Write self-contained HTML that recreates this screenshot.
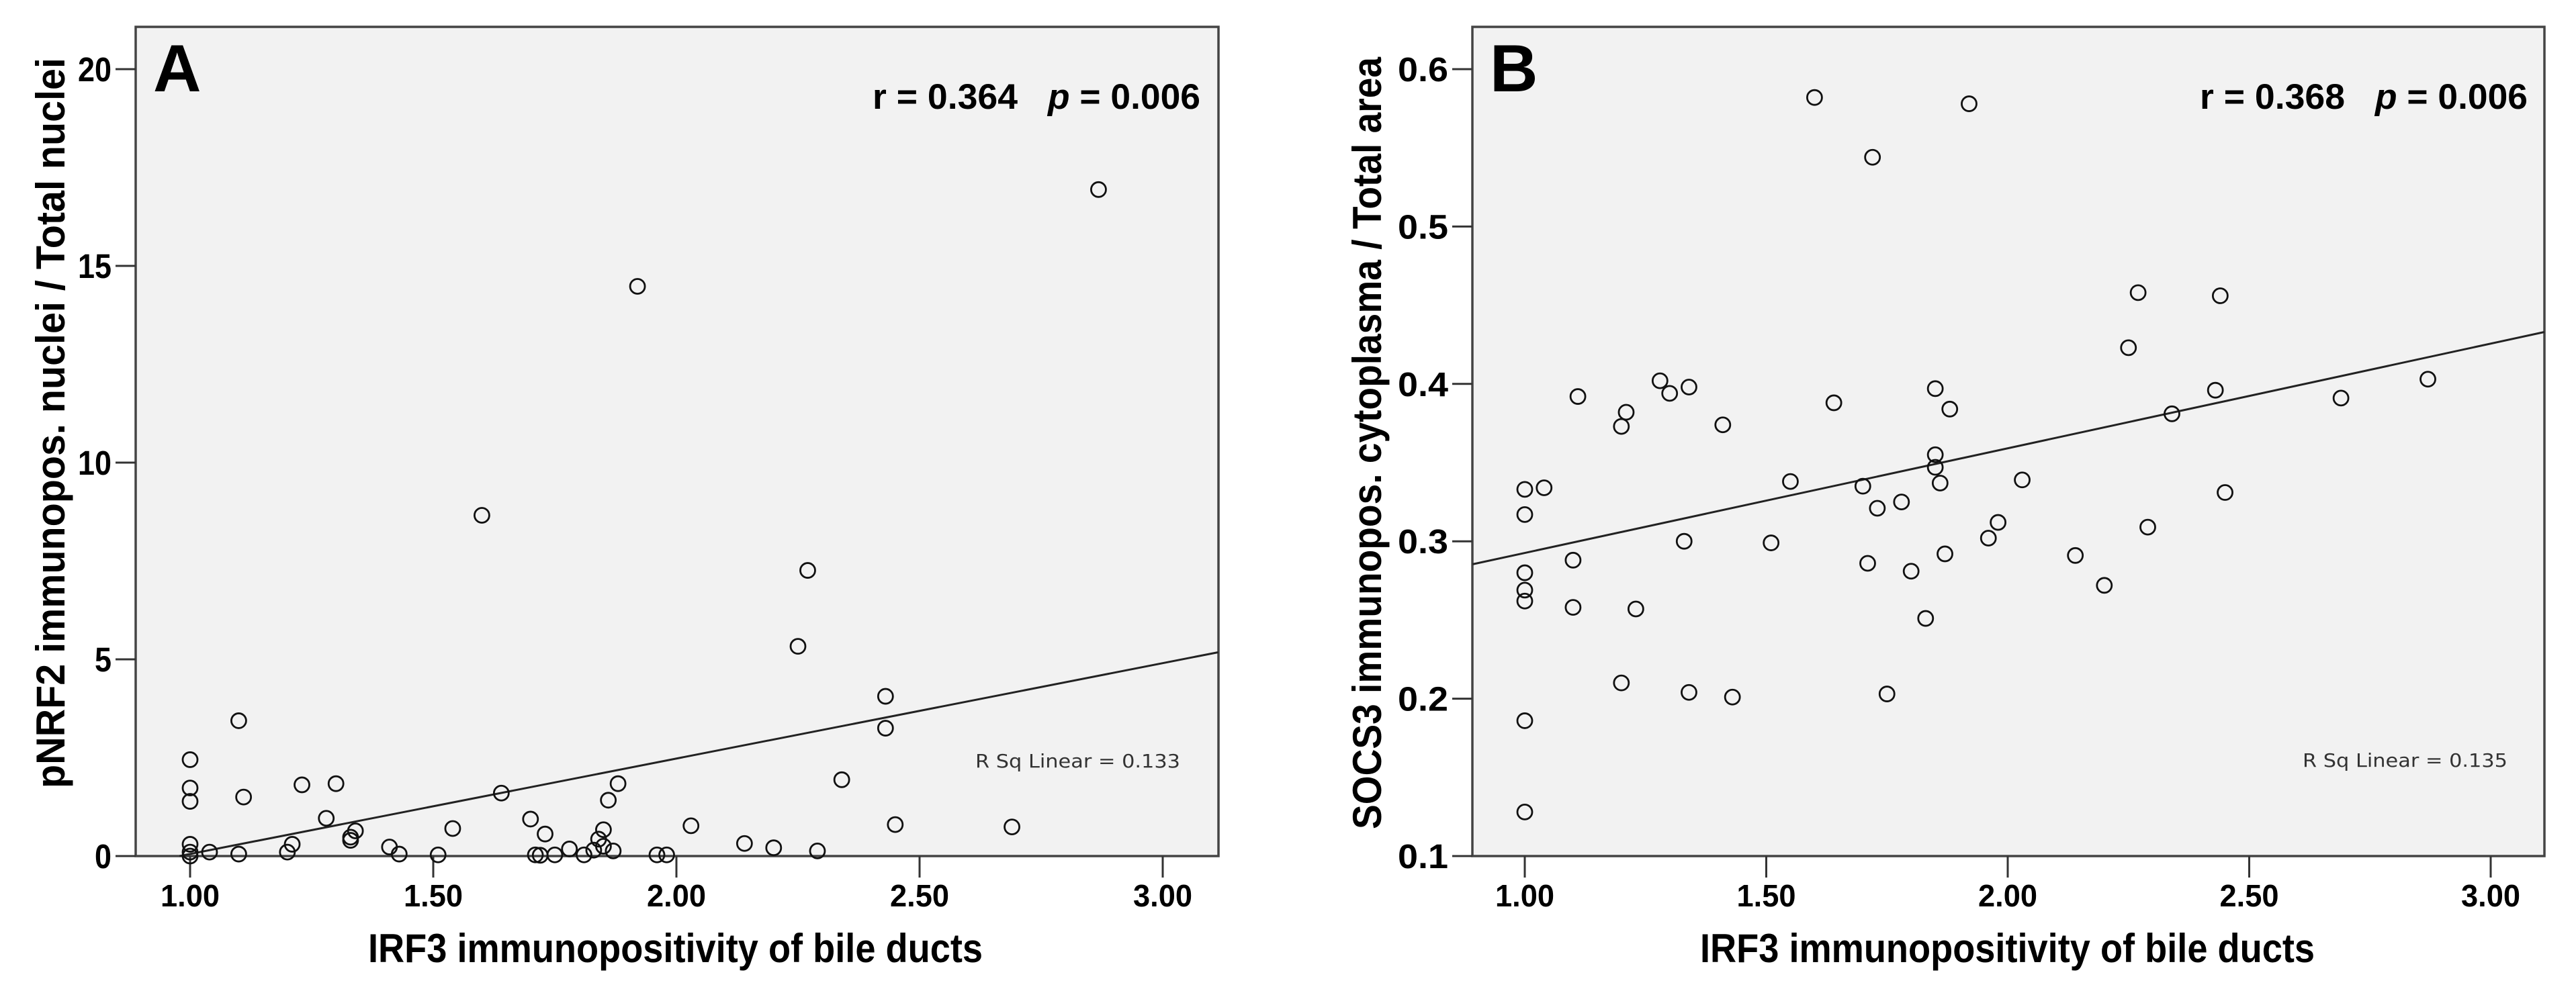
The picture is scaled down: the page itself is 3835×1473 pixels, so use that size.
<!DOCTYPE html>
<html><head><meta charset="utf-8"><style>
html,body{margin:0;padding:0;background:#fff;}
svg{display:block;}
text{font-family:"Liberation Sans",Arial,sans-serif;fill:#000;}
</style></head><body>
<svg id="chart" width="3835" height="1473" viewBox="0 0 3835 1473" xmlns="http://www.w3.org/2000/svg"></svg>
<script>
// Panel A data
const aX = [2.868,1.92,1.60,2.27,2.25,2.43,2.43,1.10,1.00,1.00,1.00,1.11,1.23,1.30,1.28,1.33,1.34,1.33,1.64,1.54,1.70,1.73,1.88,1.86,1.85,1.84,2.34,2.03,2.14,2.20,2.29,2.45,2.69,1.00,1.00,1.00,1.04,1.10,1.21,1.20,1.41,1.43,1.51,1.71,1.72,1.75,1.78,1.81,1.83,1.85,1.87,1.96,1.98];
const aY = [16.94,14.48,8.66,7.26,5.33,4.06,3.25,3.44,2.45,1.73,1.39,1.50,1.81,1.84,0.96,0.48,0.64,0.40,1.60,0.70,0.94,0.56,1.84,1.42,0.67,0.43,1.94,0.77,0.32,0.21,0.13,0.80,0.74,0.30,0.10,0.0,0.10,0.05,0.30,0.10,0.23,0.05,0.03,0.03,0.02,0.03,0.18,0.03,0.15,0.25,0.13,0.03,0.03];
// Panel B data
const bX = [1.60,1.92,1.72,2.27,2.44,2.25,2.43,2.87,2.69,2.34,2.45,2.29,2.14,2.20,2.03,1.98,1.96,1.87,1.85,1.88,1.85,1.85,1.86,1.78,1.73,1.70,1.71,1.80,1.83,1.75,1.64,1.55,1.51,1.41,1.43,1.34,1.33,1.34,1.30,1.28,1.23,1.21,1.20,1.20,1.11,1.10,1.10,1.04,1.00,1.00,1.00,1.00,1.00,1.00,1.00];
const bY = [0.582,0.578,0.544,0.458,0.456,0.423,0.396,0.403,0.391,0.381,0.331,0.309,0.291,0.272,0.339,0.312,0.302,0.292,0.397,0.384,0.355,0.347,0.337,0.325,0.321,0.335,0.286,0.281,0.251,0.203,0.388,0.338,0.299,0.374,0.201,0.204,0.300,0.398,0.394,0.402,0.257,0.382,0.373,0.210,0.392,0.288,0.258,0.334,0.333,0.317,0.280,0.269,0.262,0.186,0.128];
// tick labels
const xTicks = [1.0,1.5,2.0,2.5,3.0];
const xTickLabels = ["1.00","1.50","2.00","2.50","3.00"];
const aYTicks = [0,5,10,15,20];
const aYTickLabels = ["0","5","10","15","20"];
const bYTicks = [0.1,0.2,0.3,0.4,0.5,0.6];
const bYTickLabels = ["0.1","0.2","0.3","0.4","0.5","0.6"];
// fit lines [value at x=1, slope]
const aFit = [0.053,2.425];
const bFit = [0.2926,0.0665];

const NS="http://www.w3.org/2000/svg";
const svg=document.getElementById('chart');
function mk(tag,attrs,parent){const e=document.createElementNS(NS,tag);for(const k in attrs)e.setAttribute(k,attrs[k]);(parent||svg).appendChild(e);return e;}

function panel(cfg){
  const g=mk('g',{});
  
  
  const sx=v=>cfg.x0px+(v-1)*cfg.xUnit;
  const sy=v=>cfg.yBase+(cfg.yMinTick-v)*cfg.yUnit;
  const bg=mk('rect',{x:cfg.L,y:cfg.T,width:cfg.R-cfg.L,height:cfg.B-cfg.T,fill:'#f2f2f2',stroke:'#444','stroke-width':3.5},g);
  
  
  xTicks.forEach((t,i)=>{
    const px=sx(t);
    const tk=mk('line',{x1:px,x2:px,y1:cfg.B,y2:cfg.B+32,stroke:'#333','stroke-width':3},g);
    
    
    const tl=mk('text',{x:px,y:1350,'font-size':46,'font-weight':'bold','text-anchor':'middle',textLength:88,lengthAdjust:'spacingAndGlyphs'},g);
    tl.textContent=xTickLabels[i];
    
    
  });
  cfg.yTicks.forEach((t,i)=>{
    const py=sy(t);
    const tk=mk('line',{x1:cfg.L-30,x2:cfg.L,y1:py,y2:py,stroke:'#333','stroke-width':3},g);
    
    
    const lab=cfg.yTickLabels[i];
    const tl=mk('text',{x:cfg.L-36,y:py+18,'font-size':51,'font-weight':'bold','text-anchor':'end',textLength:lab.length*25,lengthAdjust:'spacingAndGlyphs'},g);
    tl.textContent=lab;
    
    
  });
  let xa=cfg.xMin, ya=cfg.fit[0]+cfg.fit[1]*(xa-1);
  if(ya<cfg.yMin){xa=1+(cfg.yMin-cfg.fit[0])/cfg.fit[1];ya=cfg.yMin;}
  const xb=cfg.xMax, yb=cfg.fit[0]+cfg.fit[1]*(xb-1);
  const fl=mk('line',{x1:sx(xa),y1:sy(ya),x2:sx(xb),y2:sy(yb),stroke:'#222','stroke-width':3},g);
  
  
  cfg.xs.forEach((v,i)=>{
    const c=mk('circle',{cx:sx(v),cy:sy(cfg.ys[i]),r:11,fill:'none',stroke:'#111','stroke-width':2.8},g);
    
    
  });
  const lt=mk('text',{x:cfg.L+26,y:136,'font-size':99,'font-weight':'bold'},g);
  lt.textContent=cfg.letter;
  
  
  const rt=mk('text',{x:cfg.rX,y:162,'font-size':53,'font-weight':'bold',textLength:216,lengthAdjust:'spacingAndGlyphs'},g);
  rt.textContent=cfg.rText;
  
  
  const pt=mk('text',{x:cfg.rX+261,y:162,'font-size':53,'font-weight':'bold',textLength:227,lengthAdjust:'spacingAndGlyphs'},g);
  pt.innerHTML='<tspan font-style="italic">p</tspan> = 0.006';
  
  
  const rs=mk('text',{x:cfg.rsX,y:cfg.rsY,'font-size':28,textLength:305,lengthAdjust:'spacingAndGlyphs',style:'font-family:"DejaVu Sans",sans-serif;fill:#333'},g);
  rs.textContent=cfg.rsText;
  
  
  const xt=mk('text',{x:cfg.xtX,y:1433,'font-size':60,'font-weight':'bold',textLength:915,lengthAdjust:'spacingAndGlyphs'},g);
  xt.textContent='IRF3 immunopositivity of bile ducts';
  
  
  const yt=mk('text',{x:0,y:0,'font-size':60,'font-weight':'bold','text-anchor':'middle',textLength:cfg.ytLen,lengthAdjust:'spacingAndGlyphs',transform:`translate(${cfg.ytX},${cfg.ytY}) rotate(-90)`},g);
  yt.textContent=cfg.ytText;
  
  
}
panel({name:'panel-a',letter:'A',L:202,R:1814,T:40,B:1275,x0px:283,xUnit:724,xMin:0.888,xMax:3.114,
  yBase:1275,yMinTick:0,yMin:0,yUnit:58.6,yTicks:aYTicks,yTickLabels:aYTickLabels,xs:aX,ys:aY,fit:aFit,
  rX:1299,rText:'r = 0.364',rsX:1452,rsY:1143,rsText:'R Sq Linear = 0.133',xtX:548,ytX:96,ytY:630,ytLen:1088,
  ytText:'pNRF2 immunopos. nuclei / Total nuclei'});
panel({name:'panel-b',letter:'B',L:2192,R:3788,T:40,B:1275,x0px:2270,xUnit:719,xMin:0.892,xMax:3.111,
  yBase:1275,yMinTick:0.1,yMin:0.1,yUnit:2344,yTicks:bYTicks,yTickLabels:bYTickLabels,xs:bX,ys:bY,fit:bFit,
  rX:3275,rText:'r = 0.368',rsX:3428,rsY:1142,rsText:'R Sq Linear = 0.135',xtX:2531,ytX:2056,ytY:660,ytLen:1150,
  ytText:'SOCS3 immunopos. cytoplasma / Total area'});
</script>
</body></html>
